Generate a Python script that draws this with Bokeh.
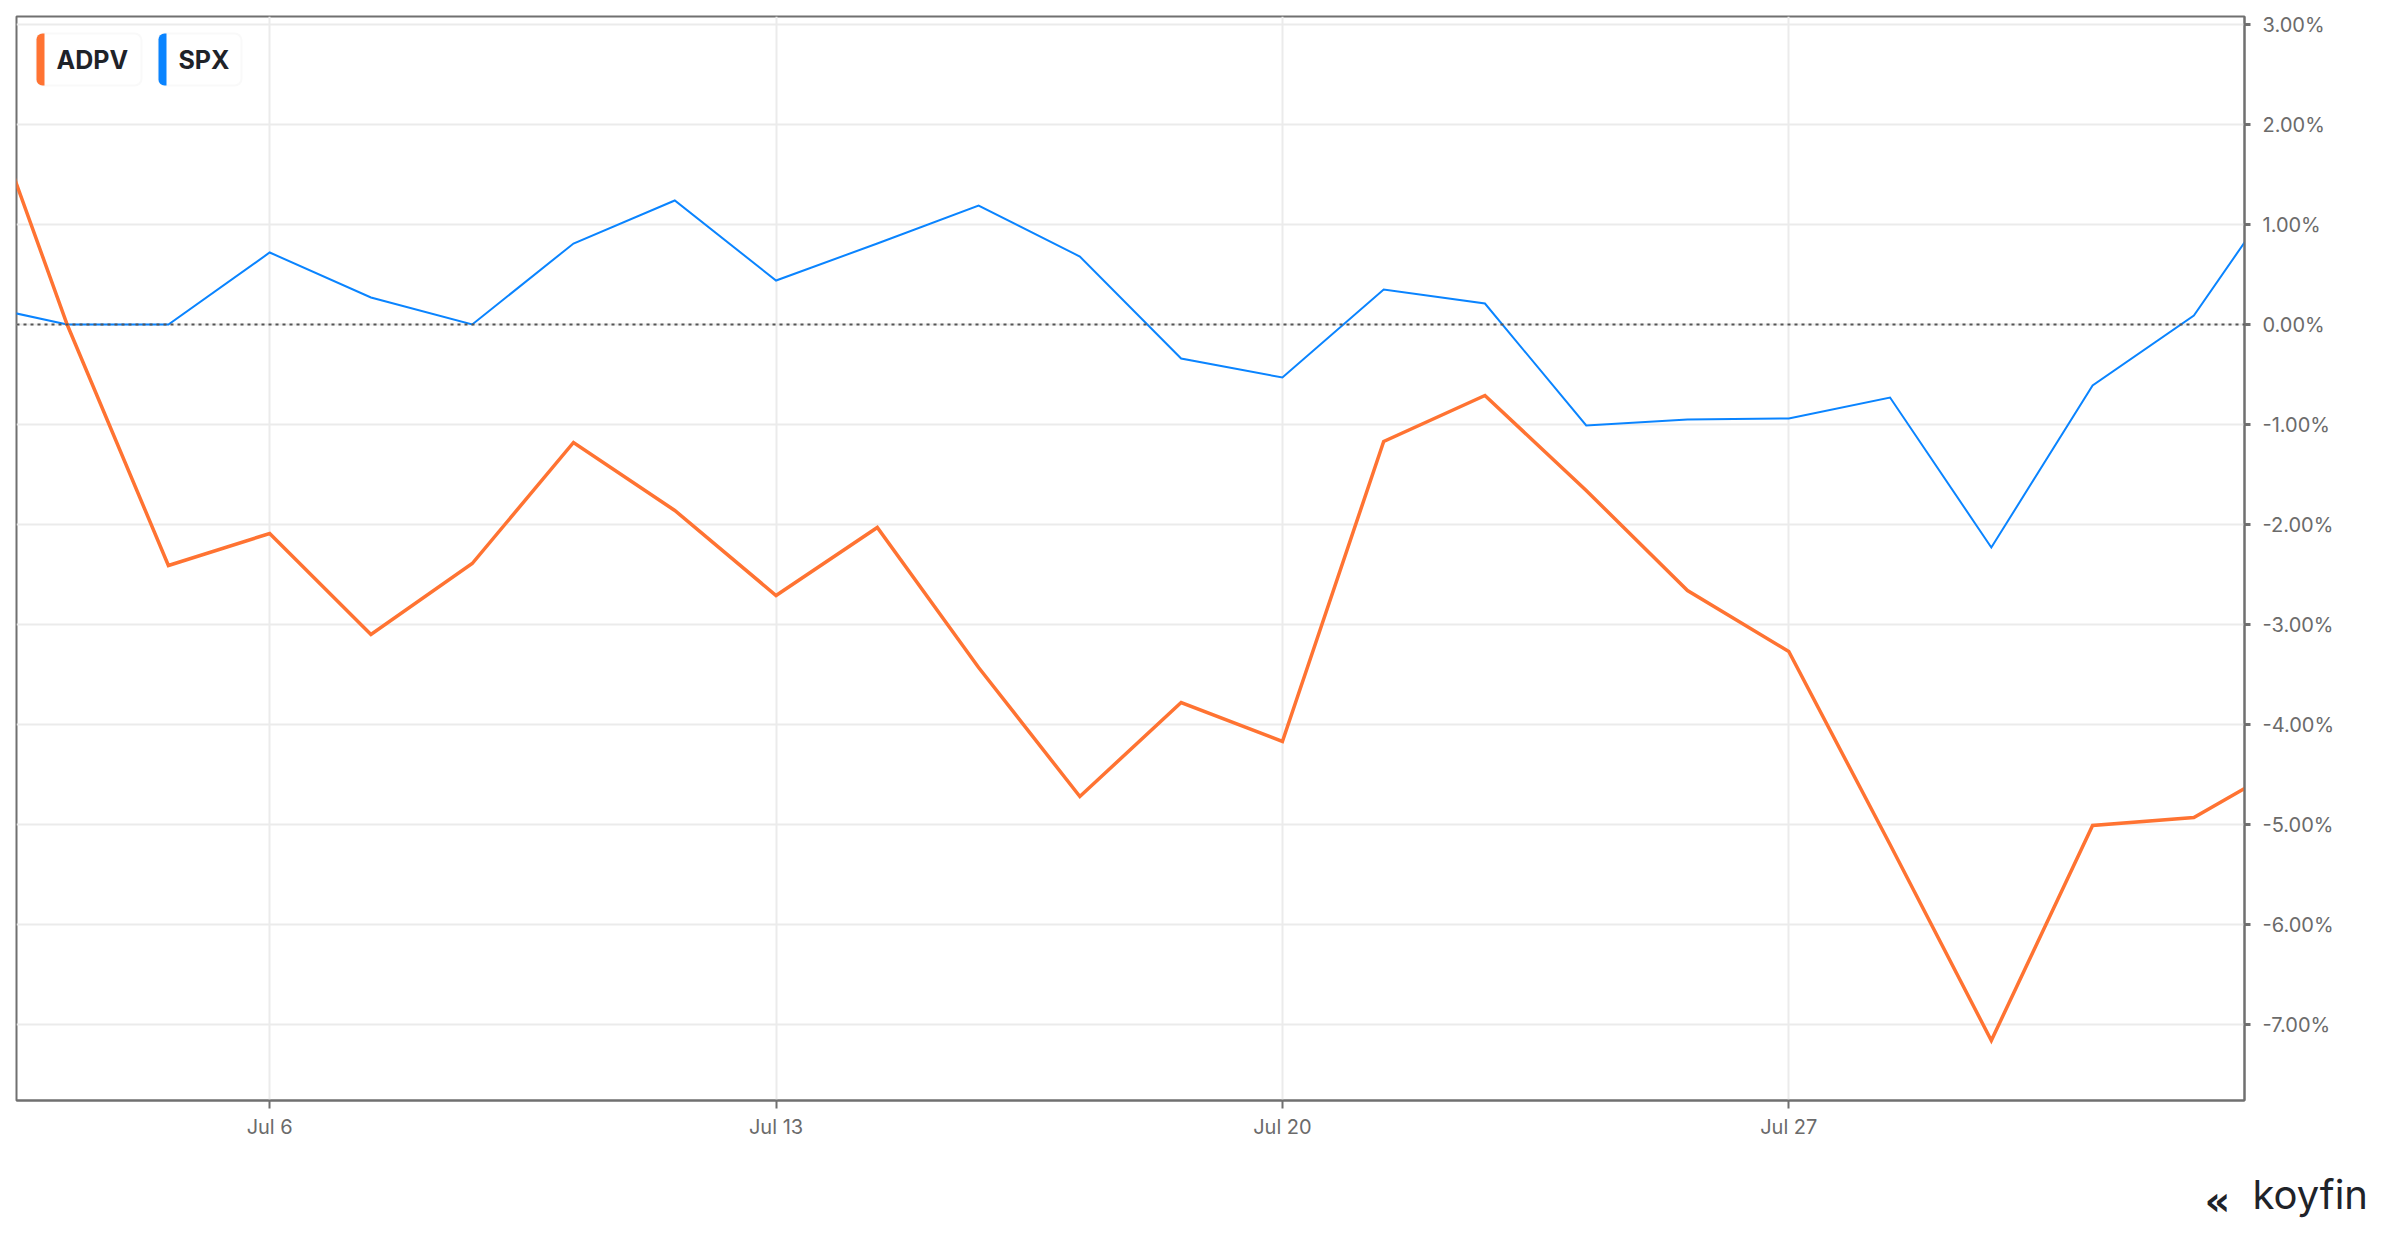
from bokeh.plotting import figure
from bokeh.models import FixedTicker, Span, BoxAnnotation, Label, Range1d, ColumnDataSource
from bokeh.layouts import column
from bokeh.embed import file_html
from bokeh.resources import INLINE

# ---- data (trading days) ----
DATES = ["Jun 30", "Jul 1", "Jul 2", "Jul 6", "Jul 7", "Jul 8", "Jul 9", "Jul 10",
         "Jul 13", "Jul 14", "Jul 15", "Jul 16", "Jul 17", "Jul 20", "Jul 21",
         "Jul 22", "Jul 23", "Jul 24", "Jul 27", "Jul 28", "Jul 29", "Jul 30",
         "Jul 31", "Aug 3"]
ADPV = [2.81, 0.0, -2.41, -2.09, -3.10, -2.39, -1.18, -1.86, -2.71, -2.03, -3.43,
        -4.72, -3.78, -4.17, -1.17, -0.71, -1.66, -2.66, -3.27, -5.20, -7.16,
        -5.01, -4.93, -4.35]
SPX = [0.22, 0.0, 0.0, 0.72, 0.27, 0.0, 0.81, 1.24, 0.44, 0.81, 1.19, 0.68,
       -0.34, -0.53, 0.35, 0.21, -1.01, -0.95, -0.94, -0.73, -2.23, -0.61,
       0.09, 1.55]
SERIES = ["ADPV", "SPX"]
X_TICK_LABELS = ["Jul 6", "Jul 13", "Jul 20", "Jul 27"]
Y_TICKS = [-7, -6, -5, -4, -3, -2, -1, 0, 1, 2, 3]

COLORS = {"ADPV": "#ff7332", "SPX": "#0a84ff"}
WIDTHS = {"ADPV": 3.5, "SPX": 2}
FONT = "Inter"
AXIS_GRAY = "#707070"
LABEL_GRAY = "#6b6b6b"
TOTAL_W = 2384

x = list(range(len(DATES)))
src = ColumnDataSource(dict(x=x, ADPV=ADPV, SPX=SPX))

p = figure(frame_width=2228, frame_height=1084,
           x_range=Range1d(0.5, len(DATES) - 1.5), y_range=Range1d(-7.76, 3.08),
           y_axis_location="right", toolbar_location=None, output_backend="svg",
           min_border_left=16, min_border_top=16, min_border_right=140, min_border_bottom=50,
           background_fill_color="white", border_fill_color="white")

p.outline_line_color = AXIS_GRAY
p.outline_line_width = 2

# grid
p.xgrid.grid_line_color = "#ebebeb"
p.xgrid.grid_line_width = 2
p.ygrid.grid_line_color = "#ebebeb"
p.ygrid.grid_line_width = 2

# x axis
xticks = [DATES.index(d) for d in X_TICK_LABELS]
p.xaxis.ticker = FixedTicker(ticks=xticks, minor_ticks=[])
p.xaxis.major_label_overrides = {t: d for t, d in zip(xticks, X_TICK_LABELS)}
# y axis
p.yaxis.ticker = FixedTicker(ticks=Y_TICKS, minor_ticks=[])
p.yaxis.major_label_overrides = {t: f"{t:.2f}%" for t in Y_TICKS}

for ax in (p.xaxis[0], p.yaxis[0]):
    ax.axis_line_color = AXIS_GRAY
    ax.axis_line_width = 2
    ax.major_tick_line_color = AXIS_GRAY
    ax.major_tick_line_width = 2
    ax.major_tick_in = 0
    ax.minor_tick_line_color = None
    ax.major_label_text_font = FONT
    ax.major_label_text_font_size = "20px"
    ax.major_label_text_color = LABEL_GRAY
p.xaxis.major_tick_out = 8
p.xaxis.major_label_standoff = 6
p.yaxis.major_tick_out = 6
p.yaxis.major_tick_line_width = 3
p.yaxis.major_label_standoff = 12

# zero line
p.add_layout(Span(location=0, dimension="width", line_color="#555555",
                  line_width=2, line_dash="3 4"))

# series
for name in ["SPX", "ADPV"]:
    p.line("x", name, source=src, line_color=COLORS[name], line_width=WIDTHS[name],
           line_join="miter")

# legend chips (canvas units)
LEG_W = {"ADPV": 105, "SPX": 83}
left = 36
for name in SERIES:
    w = LEG_W[name]
    p.add_layout(BoxAnnotation(left=left, right=left + w, top=33, bottom=85,
                               left_units="canvas", right_units="canvas",
                               top_units="canvas", bottom_units="canvas",
                               fill_color="white", fill_alpha=1,
                               line_color="#ececec", line_width=2, border_radius=7,
                               level="overlay"))
    p.add_layout(BoxAnnotation(left=left, right=left + 8, top=33, bottom=85,
                               left_units="canvas", right_units="canvas",
                               top_units="canvas", bottom_units="canvas",
                               fill_color=COLORS[name], fill_alpha=1, line_color=None,
                               border_radius=(6, 0, 0, 6), level="overlay"))
    p.add_layout(Label(x=left + 20, y=59, x_units="canvas", y_units="canvas",
                       text=name, text_font=FONT, text_font_style="bold",
                       text_font_size="25px", text_color="#1f2329",
                       text_baseline="middle", text_align="left", level="overlay"))
    left += w + 17

# koyfin mark in its own strip below the chart (no axes at all)
logo = figure(frame_width=TOTAL_W, frame_height=72, x_range=Range1d(0, TOTAL_W),
              y_range=Range1d(0, 72), toolbar_location=None, output_backend="svg",
              x_axis_type=None, y_axis_type=None,
              min_border=0, outline_line_color=None, background_fill_color="white",
              border_fill_color="white")
logo.grid.visible = False
logo.add_layout(Label(x=2204, y=50, x_units="canvas", y_units="canvas", text="\u00ab",
                      text_font="DejaVu Sans", text_font_style="bold", text_font_size="40px",
                      text_color="#1f2329", text_baseline="alphabetic", text_align="left"))
logo.add_layout(Label(x=2252, y=44, x_units="canvas", y_units="canvas", text="koyfin",
                      text_font=FONT, text_font_size="40px", text_color="#1f2329",
                      text_baseline="alphabetic", text_align="left"))

page = column(p, logo, spacing=0)
open("out.html", "w").write(file_html(page, INLINE))
